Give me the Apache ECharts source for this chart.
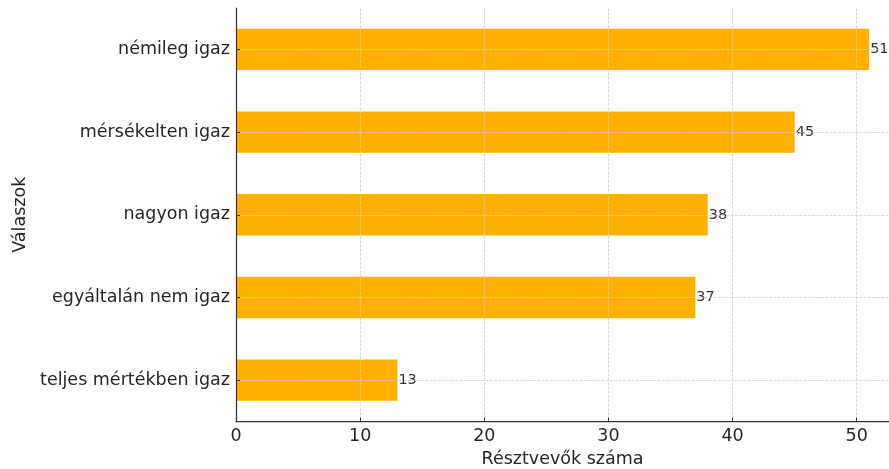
<!DOCTYPE html>
<html>
<head>
<meta charset="utf-8">
<script src="https://cdn.jsdelivr.net/npm/echarts@6/dist/echarts.min.js"></script>
<style>
html,body{margin:0;padding:0;background:#fff;}
#chart{width:889px;height:469px;}
</style>
</head>
<body>
<div id="chart"></div>
<script>
const categories = ['némileg igaz', 'mérsékelten igaz', 'nagyon igaz', 'egyáltalán nem igaz', 'teljes mértékben igaz'];
const values = [51, 45, 38, 37, 13];
const xTicks = [0, 10, 20, 30, 40, 50];

const FONT = 'DejaVu Sans';
const chart = echarts.init(document.getElementById('chart'));
chart.setOption({
  animation: false,
  textStyle: { fontFamily: FONT },
  grid: { left: 236, right: 0, top: 8, bottom: 47.5, containLabel: false, outerBoundsMode: 'none' },
  xAxis: {
    type: 'value',
    min: xTicks[0],
    max: 52.6,
    interval: xTicks[1] - xTicks[0],
    name: 'Résztvevők száma',
    nameLocation: 'middle',
    nameGap: 26,
    nameTextStyle: { fontSize: 17.5, color: '#262626', fontFamily: FONT },
    axisLine: { show: true, lineStyle: { color: '#333', width: 1.25 } },
    axisTick: { show: true, inside: true, length: 4, lineStyle: { color: '#333' } },
    axisLabel: { fontSize: 17.5, color: '#262626', margin: 6, fontFamily: FONT, showMaxLabel: false },
    splitLine: { show: true, lineStyle: { color: '#cfcfcf', type: [3, 1.3], width: 0.8 } }
  },
  yAxis: {
    type: 'category',
    inverse: true,
    data: categories,
    name: 'Válaszok',
    nameLocation: 'middle',
    nameRotate: 90,
    nameGap: 207,
    nameTextStyle: { fontSize: 17.5, color: '#262626', fontFamily: FONT },
    axisLine: { show: true, lineStyle: { color: '#333', width: 1.25 } },
    axisTick: { show: true, inside: true, length: 4, alignWithLabel: true, lineStyle: { color: '#333' } },
    axisLabel: { fontSize: 17.5, color: '#262626', margin: 6, fontFamily: FONT },
    splitLine: { show: true, alignWithLabel: true, lineStyle: { color: '#cfcfcf', type: [3, 1.3], width: 0.8 } }
  },
  series: [{
    type: 'bar',
    z: -1,
    data: values,
    barWidth: '50%',
    itemStyle: { color: '#ffb000' },
    label: { show: true, position: 'right', distance: 1, fontSize: 14.5, color: '#333', fontFamily: FONT }
  }]
});
</script>
</body>
</html>
